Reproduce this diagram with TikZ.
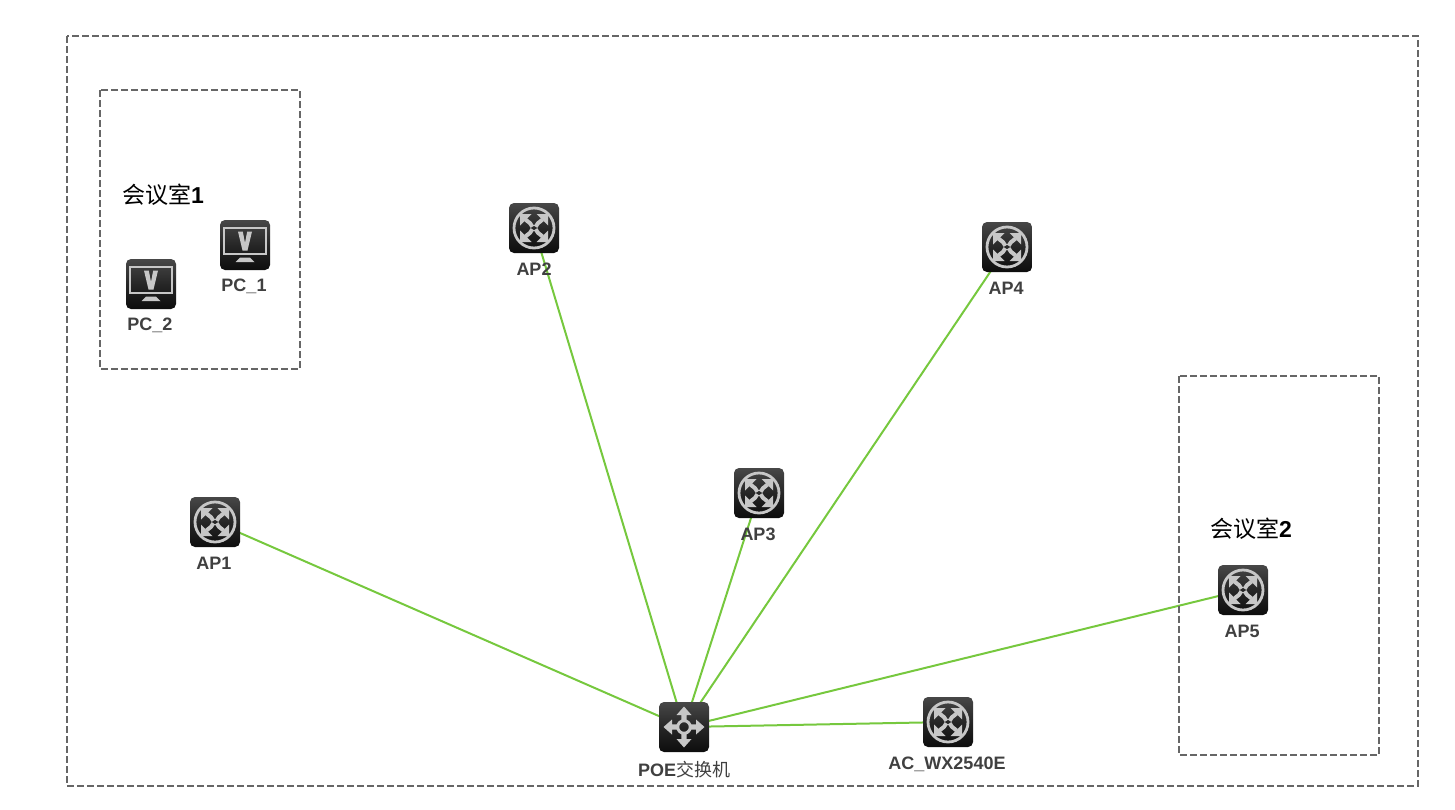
\documentclass[tikz,border=0pt]{standalone}
\usepackage{fontspec}
\setmainfont{Liberation Sans}
\newfontfamily\cjk{Noto Sans CJK SC}
\usetikzlibrary{arrows.meta,backgrounds}

\begin{document}
\begin{tikzpicture}[
  x=1pt, y=-1pt,
  zone/.style    = {draw=black!60, line width=2pt, dash pattern=on 7pt off 3pt},
  devbox/.style  = {rectangle, rounded corners=5pt, minimum size=50pt, inner sep=0pt,
                    top color=black!72, bottom color=black!95, middle color=black!85},
  devlbl/.style  = {font=\fontsize{18}{20}\selectfont\bfseries, text=black!75, inner sep=0pt},
  roomlbl/.style = {font=\fontsize{23}{26}\selectfont\bfseries, text=black, inner sep=0pt},
  link/.style    = {draw={rgb,255:red,118;green,200;blue,62}, line width=2pt},
  apglyph/.pic   = {
    \draw[draw=black!22, line width=2.8pt] (0,0) circle (20);
    \foreach \sx/\sy in {1/1,-1/1,1/-1,-1/-1}{
      \begin{scope}[xscale=\sx, yscale=\sy]
        \fill[black!22] (14,14) -- (2.5,14) -- (14,2.5) -- cycle;
        \draw[draw=black!22, line width=4pt] (8.5,8.5) .. controls (5,5) and (2.5,5) .. (1.6,1.2);
      \end{scope}
    }
  },
  pcglyph/.pic   = {
    \draw[draw=black!22, line width=2.6pt] (-21,-17) rectangle (21,9);
    \fill[black!22] (-7,-13.5) -- (-2.2,-13.5) -- (0,-2) -- (2.2,-13.5) -- (7,-13.5) -- (2.5,5.5) -- (-2.5,5.5) -- cycle;
    \fill[black!22] (-5,12.5) -- (5,12.5) -- (9.5,17) -- (-9.5,17) -- cycle;
  },
  poeglyph/.pic  = {
    \draw[draw=black!22, line width=3pt] (0,0) circle (6.3);
    \foreach \ang in {0,90,180,270}{
      \begin{scope}[rotate=\ang]
        \fill[black!22] (20.5,0) -- (12,-7.5) -- (12,-2.6) -- (6.5,-2.6) -- (6.5,2.6) -- (12,2.6) -- (12,7.5) -- cycle;
      \end{scope}
    }
  },
]
\useasboundingbox (0,0) rectangle (1455,809);
% dashed areas
\draw[zone] (67,36) rectangle (1418,786);
\draw[zone] (100,90) rectangle (300,369);
\draw[zone] (1179,376) rectangle (1379,755);
\node[roomlbl, anchor=west] (room1) at (122,195) {{\cjk\mdseries 会议室}1};
\node[roomlbl, anchor=west] (room2) at (1210,529) {{\cjk\mdseries 会议室}2};
% devices
\node[devbox] (pc1) at (245,245) {};
\node[devbox] (pc2) at (151,284) {};
\node[devbox] (ap1) at (215,522) {};
\node[devbox] (ap2) at (534,228) {};
\node[devbox] (ap3) at (759,493) {};
\node[devbox] (ap4) at (1007,247) {};
\node[devbox] (ap5) at (1243,590) {};
\node[devbox] (ac)  at (948,722) {};
\node[devbox] (poe) at (684,727) {};
\pic at (pc1) {pcglyph};
\pic at (pc2) {pcglyph};
\pic at (ap1) {apglyph};
\pic at (ap2) {apglyph};
\pic at (ap3) {apglyph};
\pic at (ap4) {apglyph};
\pic at (ap5) {apglyph};
\pic at (ac)  {apglyph};
\pic at (poe) {poeglyph};
% names
\node[devlbl] (pc1lbl) at (244,286) {PC\_1};
\node[devlbl] (pc2lbl) at (150,325) {PC\_2};
\node[devlbl] (ap1lbl) at (214,563) {AP1};
\node[devlbl] (ap2lbl) at (534,269) {AP2};
\node[devlbl] (ap3lbl) at (758,534) {AP3};
\node[devlbl] (ap4lbl) at (1006,288) {AP4};
\node[devlbl] (ap5lbl) at (1242,631) {AP5};
\node[devlbl] (aclbl)  at (947,764) {AC\_WX2540E};
\node[devlbl] (poelbl) at (684,770) {POE{\cjk\mdseries 交换机}};
% links
\begin{scope}[on background layer]
  \draw[link] (poe.center) -- (ap1.center);
  \draw[link] (poe.center) -- (ap2.center);
  \draw[link] (poe.center) -- (ap3.center);
  \draw[link] (poe.center) -- (ap4.center);
  \draw[link] (poe.center) -- (ap5.center);
  \draw[link] (poe.center) -- (ac.center);
\end{scope}
\end{tikzpicture}
\end{document}
